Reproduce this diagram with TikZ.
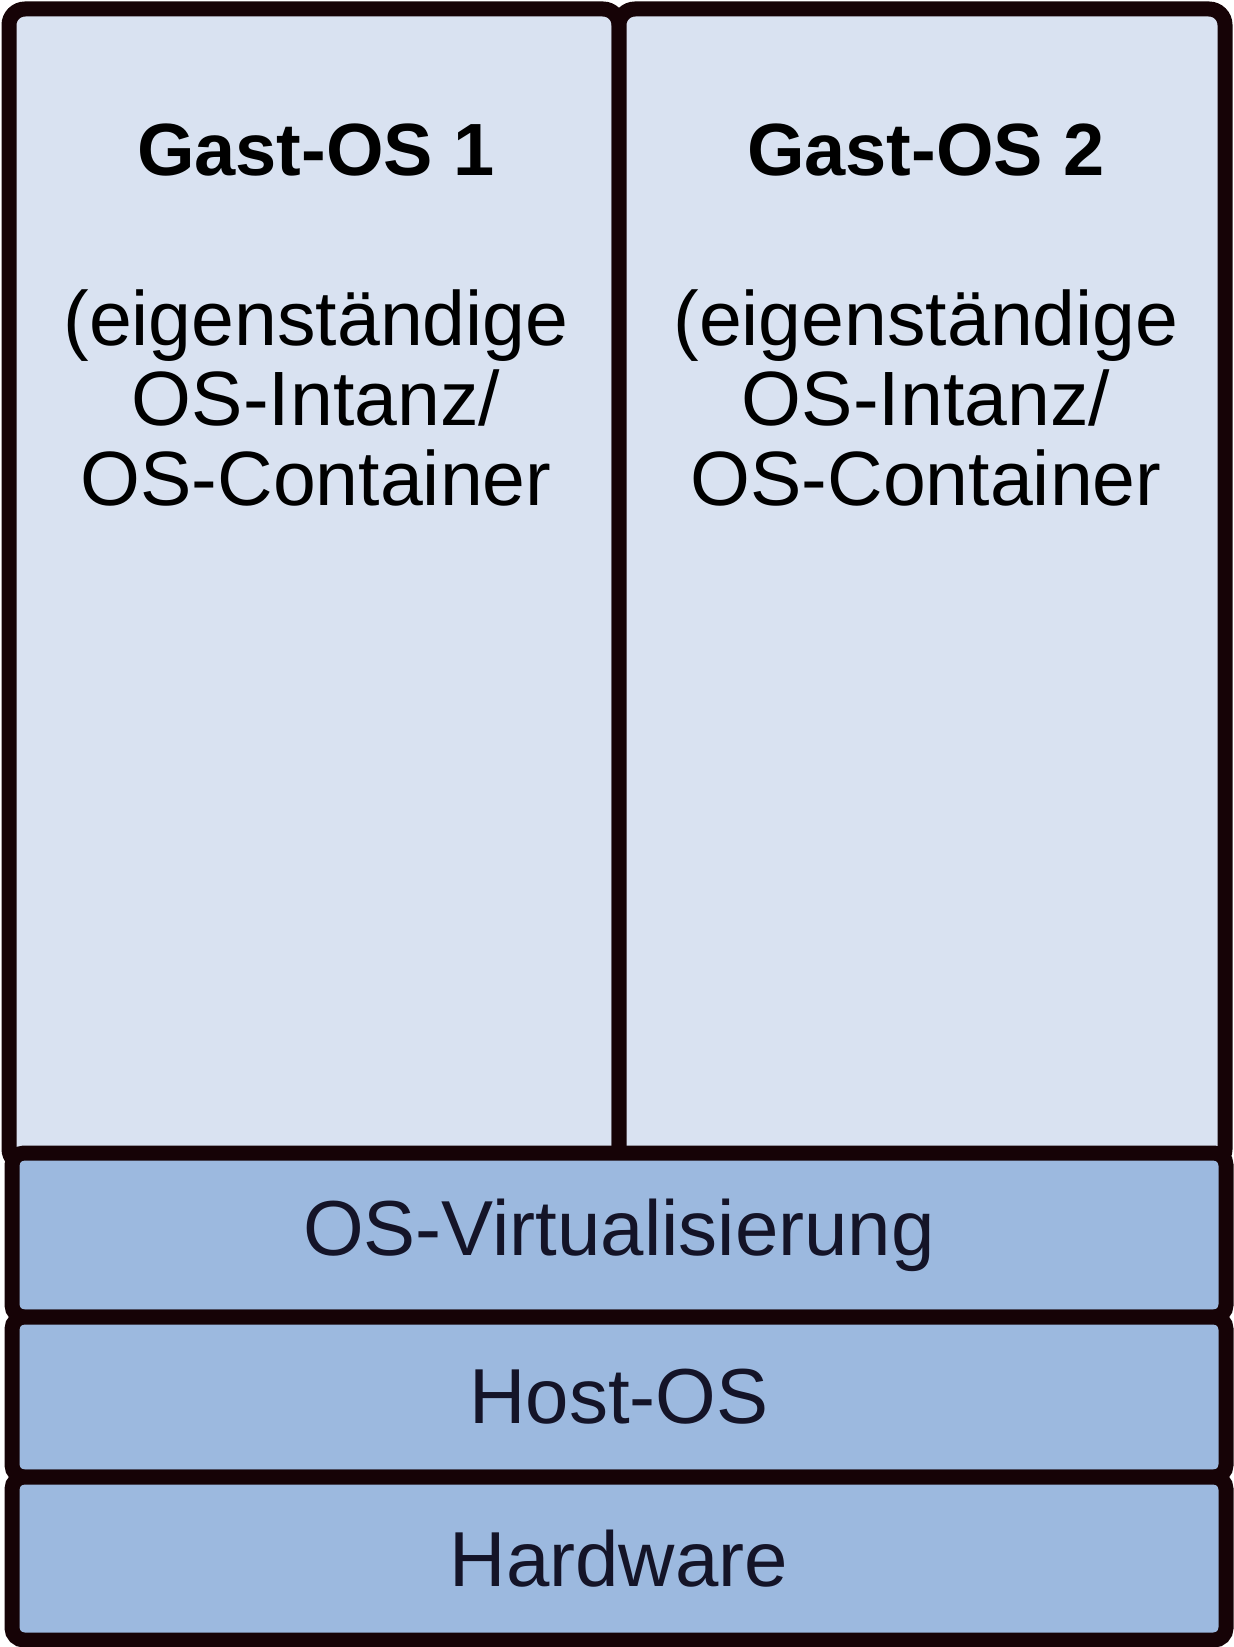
\documentclass[tikz,border=0pt]{standalone}
\usepackage{fontspec}
\setmainfont{Liberation Sans}
\usetikzlibrary{positioning}
\definecolor{guestFill}{HTML}{D9E2F1}
\definecolor{layerFill}{HTML}{9CB9DF}
\definecolor{edgeDark}{HTML}{160306}
\definecolor{textDark}{HTML}{141428}
\tikzset{
  guestBox/.style={rectangle, rounded corners=8pt, draw=edgeDark, line width=7.5pt, fill=guestFill, inner sep=0pt},
  layerBox/.style={rectangle, rounded corners=6pt, draw=edgeDark, line width=7.5pt, fill=layerFill, minimum width=607pt, inner sep=0pt, font=\fontsize{39}{40}\selectfont, text=textDark},
  guestTitle/.style={font=\bfseries\fontsize{37}{40}\selectfont, inner sep=0pt, text=black},
  guestText/.style={align=center, font=\fontsize{38.5}{40}\selectfont, inner sep=0pt, text=black},
}
\begin{document}
\begin{tikzpicture}[x=0.5pt, y=-0.5pt]
\useasboundingbox (0,0) rectangle (1233,1647);

% guest systems
\node (g1) [guestBox, minimum width=305pt, minimum height=578pt] at (314,587) {};
\node (g2) [guestBox, minimum width=303pt, minimum height=578pt] at (922,587) {};
\node (g1title) [guestTitle, anchor=base] at (316,176) {Gast-OS 1};
\node (g1text) [guestText, below=56pt of g1title] {(eigenständige\\OS-Intanz/\\OS-Container};
\node (g2title) [guestTitle, anchor=base] at (926,176) {Gast-OS 2};
\node (g2text) [guestText, below=56pt of g2title] {(eigenständige\\OS-Intanz/\\OS-Container};

% layers
\node (virt) [layerBox, minimum height=82pt] at (619,1235) {OS-Virtualisierung};
\node (host) [layerBox, minimum height=80pt] at (619,1397) {Host-OS};
\node (hw) [layerBox, minimum height=81.5pt] at (619,1558.5) {Hardware};
\end{tikzpicture}
\end{document}
